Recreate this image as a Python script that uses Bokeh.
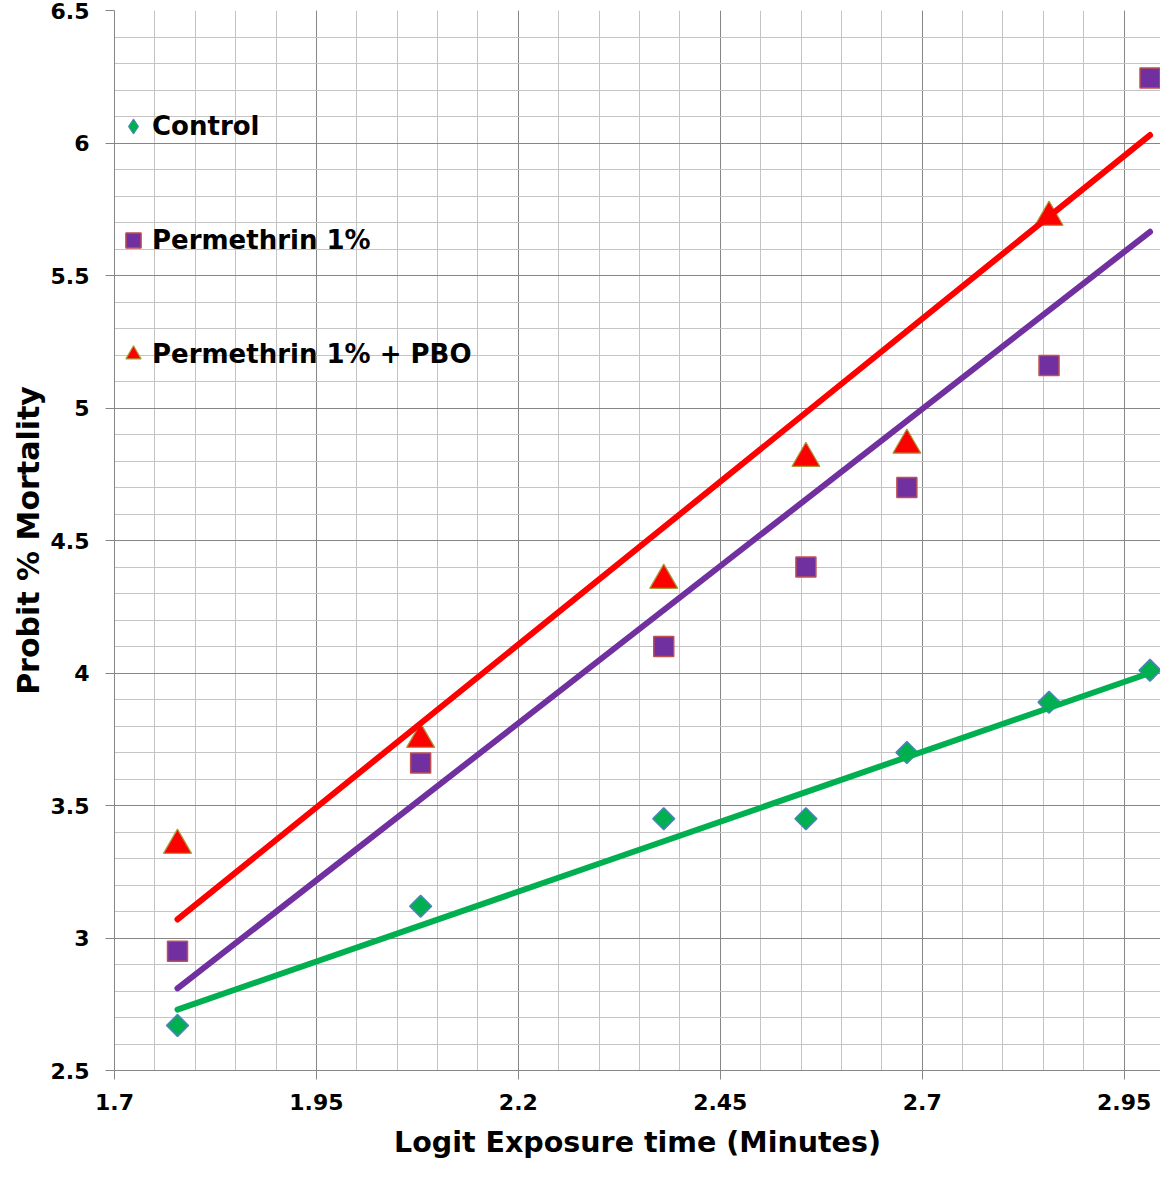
import math
from bokeh.plotting import figure
from bokeh.models import (FixedTicker, CustomJSTickFormatter, Legend, LegendItem,
                          Range1d, ColumnDataSource)
from bokeh.embed import file_html
from bokeh.resources import INLINE

# ---- data ----
log_time = [1.778, 2.079, 2.380, 2.556, 2.681, 2.857, 2.982]
control = [2.67, 3.12, 3.45, 3.45, 3.70, 3.89, 4.01]
permethrin = [2.95, 3.66, 4.10, 4.40, 4.70, 5.16, 6.245]
pbo_time = [1.778, 2.079, 2.380, 2.556, 2.681, 2.857]
permethrin_pbo = [3.35, 3.75, 4.35, 4.81, 4.86, 5.72]

# trend lines (end points)
fit_x = [1.778, 2.982]
control_fit = [2.73, 4.00]
permethrin_fit = [2.81, 5.665]
pbo_fit = [3.07, 6.03]

# axis ticks
x_major = [1.7, 1.95, 2.2, 2.45, 2.7, 2.95]
x_minor = [round(1.7 + 0.05 * i, 2) for i in range(27)]
y_major = [2.5, 3.0, 3.5, 4.0, 4.5, 5.0, 5.5, 6.0, 6.5]
y_minor = [round(2.5 + 0.1 * i, 1) for i in range(41)]

GREEN = "#00B050"
PURPLE = "#7030A0"
RED = "#FF0000"

p = figure(width=1160, height=1161,
           x_range=Range1d(1.7, 2.995), y_range=Range1d(2.5, 6.5),
           output_backend="svg", toolbar_location=None,
           min_border_left=114, min_border_right=0,
           min_border_top=10, min_border_bottom=90)
p.outline_line_color = None
p.background_fill_color = "white"
p.border_fill_color = "white"

fmt = CustomJSTickFormatter(code="return String(Math.round(tick*100)/100);")

p.xaxis.ticker = FixedTicker(ticks=x_major, minor_ticks=x_minor)
p.yaxis.ticker = FixedTicker(ticks=y_major, minor_ticks=y_minor)
p.xaxis.formatter = fmt
p.yaxis.formatter = fmt

for ax in (p.xaxis, p.yaxis):
    ax.axis_line_color = "#868686"
    ax.axis_line_width = 1
    ax.major_tick_line_color = "#868686"
    ax.major_tick_in = 0
    ax.major_tick_out = 9
    ax.minor_tick_line_color = None
    ax.major_label_text_font = "DejaVu Sans"
    ax.major_label_text_font_style = "bold"
    ax.major_label_text_font_size = "22px"
    ax.major_label_text_color = "black"
    ax.axis_label_text_color = "black"
    ax.axis_label_text_font = "DejaVu Sans"
    ax.axis_label_text_font_style = "bold"

p.xaxis.major_label_standoff = 14
p.yaxis.major_label_standoff = 16
p.xaxis.axis_label = "Logit Exposure time (Minutes)"
p.xaxis.axis_label_text_font_size = "28.5px"
p.xaxis.axis_label_standoff = 13
p.yaxis.axis_label = "Probit % Mortality"
p.yaxis.axis_label_text_font_size = "30px"
p.yaxis.axis_label_standoff = 2

for g in (p.xgrid, p.ygrid):
    g.grid_line_color = "#868686"
    g.grid_line_width = 1
    g.minor_grid_line_color = "#C4C4C4"
    g.minor_grid_line_width = 1

# markers
r_ctrl = p.scatter(log_time, control, marker="square", size=15.5, angle=math.pi / 4,
                   fill_color=GREEN, line_color="#4F81BD", line_width=1.5)
r_perm = p.scatter(log_time, permethrin, marker="square", size=20,
                   fill_color=PURPLE, line_color="#C0504D", line_width=1.5)
r_pbo = p.scatter(pbo_time, permethrin_pbo, marker="triangle", size=28,
                  fill_color=RED, line_color="#A89A3A", line_width=1.2)

# trend lines
p.line(fit_x, control_fit, line_color=GREEN, line_width=6, line_cap="round")
p.line(fit_x, permethrin_fit, line_color=PURPLE, line_width=6, line_cap="round")
p.line(fit_x, pbo_fit, line_color=RED, line_width=6, line_cap="round")

# legend-only diamond renderer (no visible data point)
legend_src = ColumnDataSource(data=dict(x=[float("nan")], y=[float("nan")]))
r_ctrl_leg = p.scatter("x", "y", source=legend_src, marker="diamond", size=15,
                       fill_color=GREEN, line_color="#4F81BD", line_width=1)

legend = Legend(items=[
    LegendItem(label="Control", renderers=[r_ctrl_leg]),
    LegendItem(label="Permethrin 1%", renderers=[r_perm]),
    LegendItem(label="Permethrin 1% + PBO", renderers=[r_pbo]),
], location=(0, 697))
legend.background_fill_alpha = 0
legend.border_line_color = None
legend.padding = 0
legend.margin = 0
legend.glyph_width = 38
legend.glyph_height = 38
legend.label_height = 38
legend.label_standoff = 0
legend.spacing = 76
legend.label_text_font = "DejaVu Sans"
legend.label_text_font_style = "bold"
legend.label_text_font_size = "26px"
legend.label_text_color = "black"
p.add_layout(legend, "center")

open("out.html", "w").write(file_html(p, INLINE))
